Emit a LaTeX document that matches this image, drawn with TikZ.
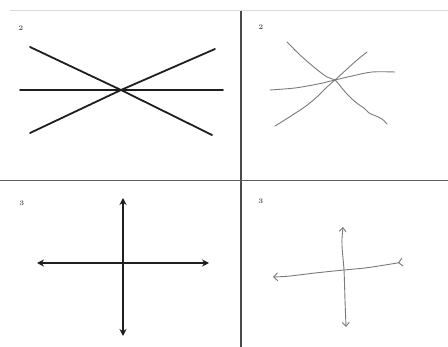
\documentclass[tikz,border=0pt]{standalone}
\usepackage{tikz}
\usetikzlibrary{arrows.meta,positioning}
\definecolor{inkdark}{HTML}{1E1E1E}
\definecolor{inkpencil}{HTML}{7A7A7A}
\definecolor{rulegray}{HTML}{4A4A4A}

\begin{document}
\begin{tikzpicture}[x=1pt,y=-1pt, every node/.style={font=\scriptsize\bfseries,text=inkdark!75,inner sep=0pt}]
\tikzset{ruled/.style={rulegray,line width=1.2pt}, marker/.style={inkdark,line width=1.8pt,line cap=round}, pencil/.style={inkpencil,line width=0.9pt,line cap=round,line join=round}}
\useasboundingbox (0,0) rectangle (448,347);
% panel frame
\draw[black!15,line width=1pt] (10,11) -- (448,11);
\draw[ruled] (241,11) -- (241,347);
\draw[rulegray!90,line width=1pt] (0,181) -- (448,181);
% panel numbers
\node (n1) at (21,28) {2};
\node (n2) at (261,27) {2};
\node (n3) at (22,203) {3};
\node (n4) at (261,201) {3};
% top left: three straight lines through one point
\coordinate (tl) at (121,90);
\draw[marker] (30,47) -- (tl) -- (212,135);
\draw[marker] (30,133) -- (tl) -- (215,49);
\draw[marker] (20,90) -- (tl) -- (223,90);
% top right: the same, sketched
\coordinate (tr) at (335,80);
\draw[pencil] plot[smooth] coordinates {(287,42) (300,55) (315,68) (327,77) (tr) (341,87) (347,94) (352,99) (358,104) (364,108) (369,113) (376,116) (382,119) (387,124)};
\draw[pencil] plot[smooth] coordinates {(275,126) (291,116) (306,106) (318,96) (327,87) (tr) (346,70) (357,60) (367,52)};
\draw[pencil] plot[smooth] coordinates {(270,90) (295,88) (318,84) (tr) (352,76) (372,72) (395,72)};
% bottom left: axes with arrows
\coordinate (bl) at (123,263);
\draw[marker,{Stealth[length=7pt,width=7pt]}-{Stealth[length=7pt,width=7pt]}] (123,198) -- (bl) -- (123,336);
\draw[marker,{Stealth[length=7pt,width=7pt]}-{Stealth[length=7pt,width=7pt]}] (37,263) -- (bl) -- (209,263);
% bottom right: the same, sketched
\coordinate (br) at (344,270);
\draw[pencil,{Straight Barb[length=4pt,width=7pt]}-{Straight Barb[length=4pt,width=7pt]}] plot[smooth] coordinates {(343,227) (342,245) (br) (345,300) (346,327)};
\draw[pencil,{Straight Barb[length=4pt,width=8pt]}-{Straight Barb[length=4pt,width=8pt,reversed]}] plot[smooth] coordinates {(273,277) (290,276) (315,273) (br) (365,268) (385,265) (403,262)};
\end{tikzpicture}
\end{document}
